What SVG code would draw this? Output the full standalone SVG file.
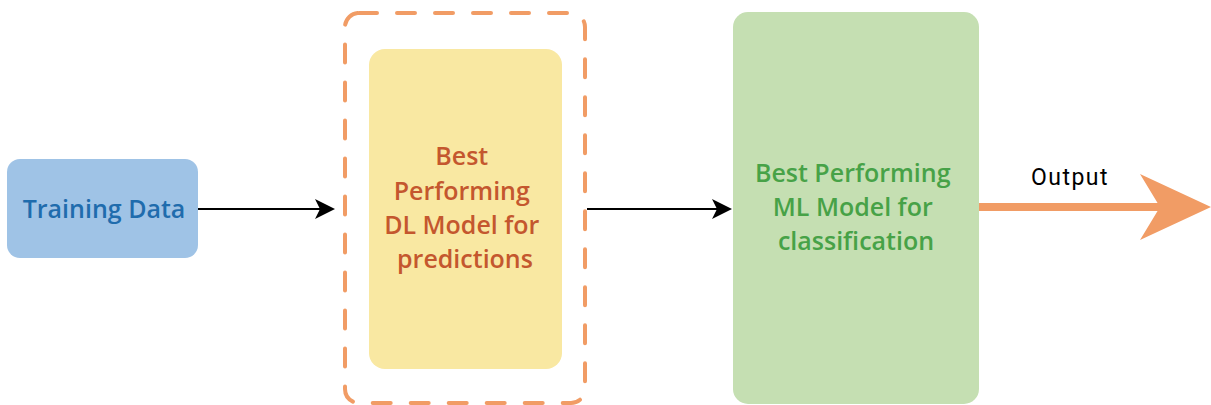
<svg xmlns="http://www.w3.org/2000/svg" width="1211" height="405" viewBox="0 0 1211 405">
  <style>
    .lbl { font-family: "Open Sans", "Liberation Sans", sans-serif; font-size: 25px; font-weight: 600; text-anchor: middle; }
    .edge { stroke: #000; stroke-width: 2; fill: none; }
  </style>
  <defs>
    <marker id="arrow" viewBox="0 0 20 20" refX="18" refY="10" markerWidth="20" markerHeight="20" markerUnits="userSpaceOnUse" orient="auto">
      <path d="M0,0 L20,10 L0,20 L5,10 Z" fill="#000"/>
    </marker>
  </defs>

  <g id="training-data">
    <rect x="7" y="159" width="191" height="99" rx="13" fill="#9fc3e6"/>
    <text class="lbl" x="104" y="218" fill="#1f6cad">Training Data</text>
  </g>

  <g id="dl-model">
    <rect x="345" y="13" width="240" height="390" rx="14" fill="none" stroke="#f19c65" stroke-width="4" stroke-dasharray="18 20" stroke-linecap="round"/>
    <rect x="369" y="49" width="193" height="320" rx="16" fill="#f9e8a2"/>
    <text class="lbl" fill="#c4572e">
      <tspan x="465" y="165">Best</tspan>
      <tspan x="465" y="200">Performing</tspan>
      <tspan x="465" y="234">DL Model for</tspan>
      <tspan x="465" y="268">predictions</tspan>
    </text>
  </g>

  <g id="ml-model">
    <rect x="733" y="12" width="246" height="392" rx="15" fill="#c5dfb2"/>
    <text class="lbl" fill="#47a247">
      <tspan x="856" y="182">Best Performing</tspan>
      <tspan x="856" y="216">ML Model for</tspan>
      <tspan x="856" y="250">classification</tspan>
    </text>
  </g>

  <g id="connectors">
    <line class="edge" x1="198" y1="209" x2="333" y2="209" marker-end="url(#arrow)"/>
    <line class="edge" x1="587" y1="209" x2="730" y2="209" marker-end="url(#arrow)"/>
    <line x1="979" y1="207" x2="1162" y2="207" stroke="#f19c65" stroke-width="8"/>
    <path d="M1140,174 L1211,207 L1140,240 L1160,207 Z" fill="#f19c65"/>
    <text x="1070" y="185" font-family="Roboto, 'Liberation Sans', sans-serif" font-size="23" letter-spacing="1.5" text-anchor="middle" fill="#000">Output</text>
  </g>
</svg>
